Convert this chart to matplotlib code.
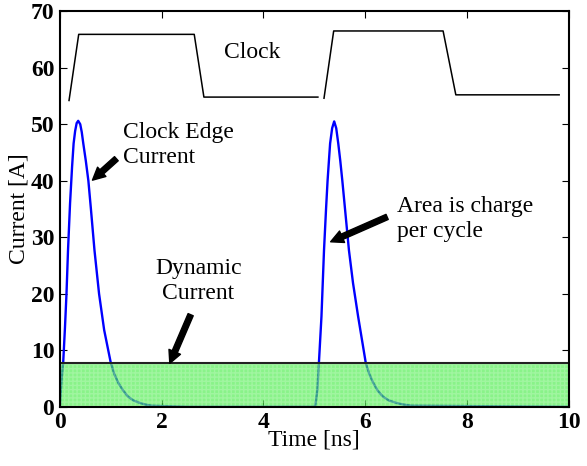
import matplotlib
matplotlib.use('Agg')
import matplotlib.pyplot as plt

plt.rcParams['font.family'] = ['Liberation Serif', 'DejaVu Serif']

# current pulses (time in ns, current in A)
t_pulse = [0.0, 0.02, 0.04, 0.065, 0.1, 0.13, 0.16, 0.2, 0.24, 0.27, 0.3, 0.33, 0.36,
           0.4, 0.43, 0.46, 0.51, 0.56, 0.61, 0.68, 0.77, 0.87, 1.0, 1.07, 1.15,
           1.25, 1.34, 1.45, 1.57, 1.68, 1.8, 2.5,
           5.0, 5.02, 5.06, 5.09, 5.14, 5.19, 5.23, 5.26, 5.29, 5.31, 5.35, 5.39,
           5.43, 5.47, 5.51, 5.55, 5.68, 5.76, 5.86, 6.01, 6.08, 6.16, 6.25, 6.35,
           6.47, 6.61, 6.75, 6.91, 10.0]
i_pulse = [0.0, 3.0, 5.5, 7.8, 14.0, 20.0, 27.7, 36.0, 42.5, 46.6, 48.8, 50.2, 50.6,
           50.0, 48.6, 46.6, 43.5, 40.0, 35.0, 27.7, 20.0, 13.6, 7.8, 5.8, 4.2,
           2.8, 1.8, 1.1, 0.7, 0.4, 0.2, 0.0,
           0.0, 0.3, 3.0, 7.8, 16.0, 27.7, 35.0, 40.0, 44.0, 46.6, 49.3, 50.5,
           49.3, 46.6, 43.5, 40.0, 27.7, 21.9, 16.0, 7.8, 5.8, 4.2, 2.8, 1.8,
           1.1, 0.7, 0.4, 0.2, 0.0]

# clock waveform (arbitrary offset), two separate traces
clk1_t = [0.18, 0.37, 2.64, 2.83, 5.07]
clk1_v = [54.2, 65.9, 65.9, 54.8, 54.8]
clk2_t = [5.19, 5.38, 7.53, 7.78, 9.81]
clk2_v = [54.6, 66.5, 66.5, 55.2, 55.2]

dyn_current = 7.7
t_span = [0, 10]

fig = plt.figure(figsize=(5.87, 4.66), dpi=100)
ax = fig.add_axes([0.102, 0.127, 0.867, 0.849])

ax.plot(t_pulse, i_pulse, color='#0000ff', lw=1.7, zorder=2)
ax.fill_between(t_span, 0, dyn_current, color='#4aee4a', alpha=0.65, lw=0, zorder=3)
ax.fill_between(t_span, 0, dyn_current, facecolor='none', edgecolor='white',
                hatch='++++', lw=0, alpha=0.2, zorder=3)
ax.plot(t_span, [dyn_current, dyn_current], color='#222222', lw=1.5, zorder=4)
ax.plot(clk1_t, clk1_v, color='k', lw=1.1, zorder=4)
ax.plot(clk2_t, clk2_v, color='k', lw=1.1, zorder=4)

fs = 17
ax.text(3.77, 62.7, 'Clock', fontsize=fs, ha='center', va='center')
ax.text(1.25, 46.3, 'Clock Edge\nCurrent', fontsize=fs, ha='left', va='center',
        linespacing=1.25)
ax.text(6.62, 33.3, 'Area is charge\nper cycle', fontsize=fs, ha='left', va='center',
        linespacing=1.25)
ax.text(2.72, 22.2, 'Dynamic\nCurrent', fontsize=fs, ha='center', va='center',
        linespacing=1.25)

arrow = dict(arrowstyle='simple,head_width=0.9,head_length=0.9,tail_width=0.4',
             color='k', shrinkA=0, shrinkB=0)
ax.annotate('', xy=(0.64, 40.1), xytext=(1.11, 43.9), arrowprops=arrow, zorder=5)
ax.annotate('', xy=(5.32, 29.2), xytext=(6.43, 33.6), arrowprops=arrow, zorder=5)
ax.annotate('', xy=(2.16, 7.7), xytext=(2.57, 16.3), arrowprops=arrow, zorder=5)

ax.set_xlim(0, 10)
ax.set_ylim(0, 70)
ax.set_xticks(range(0, 11, 2))
ax.set_yticks(range(0, 71, 10))
ax.tick_params(direction='in', top=True, right=True, length=5, width=0.8,
               labelsize=17, pad=4)
for lab in ax.get_xticklabels() + ax.get_yticklabels():
    lab.set_fontweight('bold')
for sp in ax.spines.values():
    sp.set_linewidth(1.5)
    sp.set_zorder(6)

ax.set_xlabel('Time [ns]', fontsize=fs, labelpad=-3)
ax.set_ylabel('Current [A]', fontsize=fs, labelpad=1)

fig.savefig('out.png', dpi=100)
